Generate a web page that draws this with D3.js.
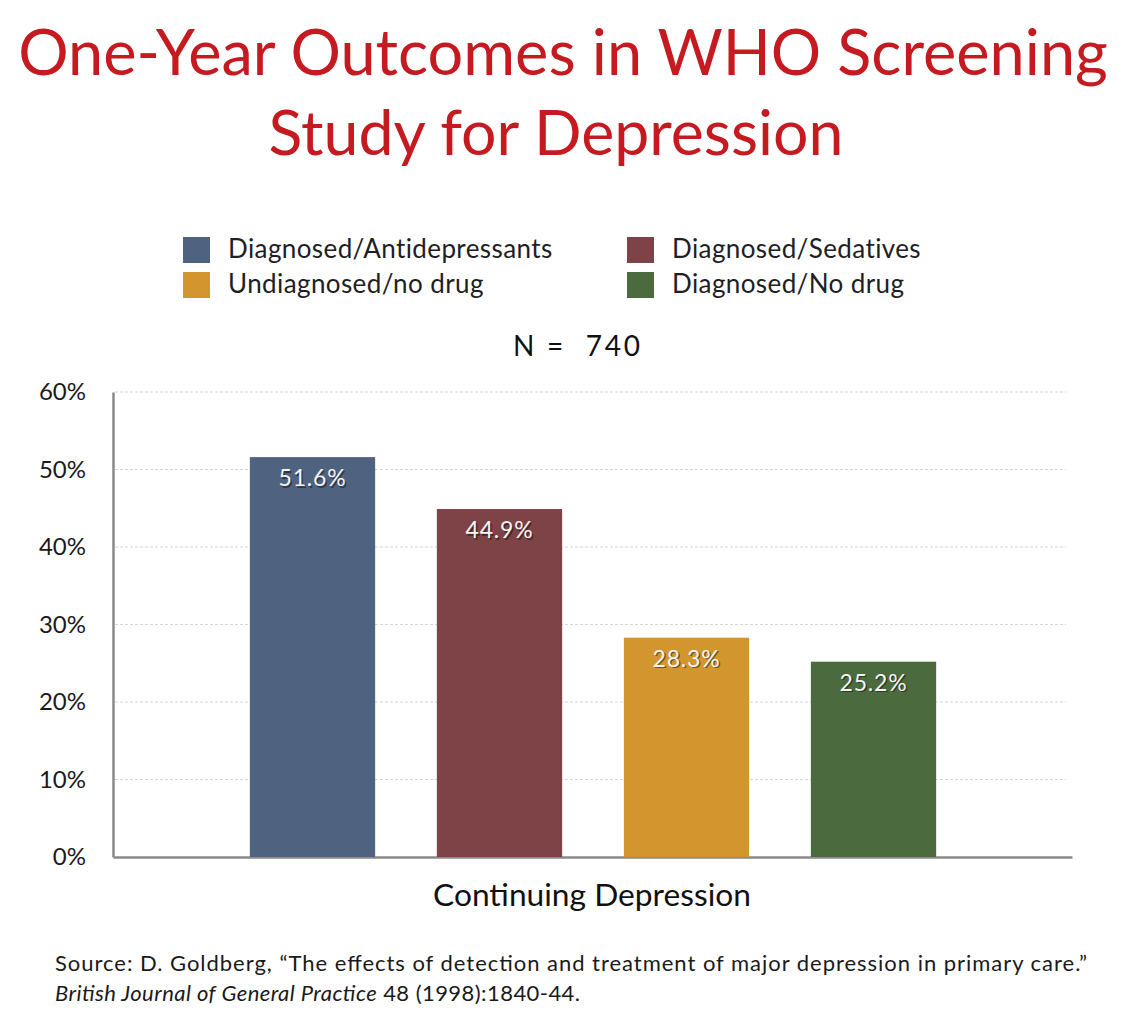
<!DOCTYPE html>
<html>
<head>
<meta charset="utf-8">
<script src="https://cdn.jsdelivr.net/npm/d3@7"></script>
<style>
  html, body { margin: 0; padding: 0; background: #fff; }
  svg { display: block; }
  text { font-family: "Lato", "Open Sans", sans-serif; }
</style>
</head>
<body>
<svg id="chart" width="1124" height="1032"></svg>
<script>
// ---- data ----
const titleLines = ["One-Year Outcomes in WHO Screening", "Study for Depression"];
const categories = ["Diagnosed/Antidepressants", "Diagnosed/Sedatives", "Undiagnosed/no drug", "Diagnosed/No drug"];
const values = [51.6, 44.9, 28.3, 25.2];
const colors = ["#4f6381", "#7e4347", "#d3962f", "#4b6a3d"];
const legendOrder = [0, 1, 2, 3];
const yTicks = [0, 10, 20, 30, 40, 50, 60];
const subtitle = "N =  740";
const xLabel = "Continuing Depression";
const sourceLine1 = "Source: D. Goldberg, \u201CThe effects of detection and treatment of major depression in primary care.\u201D";
const sourceJournal = "British Journal of General Practice";
const sourceRest = " 48 (1998):1840-44.";

const svg = d3.select("#chart");

function fitSize(el, base, targetW) {
  const w = el.node().getComputedTextLength();
  el.attr("font-size", base * targetW / w);
}

// ---- title ----
const titleSpecs = [{y: 75, cx: 563, w: 1090}, {y: 155, cx: 556, w: 575}];
titleLines.forEach((t, i) => {
  const el = svg.append("text")
    .attr("x", titleSpecs[i].cx).attr("y", titleSpecs[i].y)
    .attr("text-anchor", "middle")
    .attr("fill", "#c41a20")
    .attr("font-size", 60)
    .text(t);
  fitSize(el, 60, titleSpecs[i].w);
});

// ---- legend ----
const legendPos = [
  {x: 183, y: 237, tx: 228}, {x: 627, y: 237, tx: 672},
  {x: 183, y: 272, tx: 228}, {x: 627, y: 272, tx: 672}
];
legendOrder.forEach((ci, i) => {
  const p = legendPos[i];
  svg.append("rect").attr("x", p.x).attr("y", p.y).attr("width", 27).attr("height", 26)
    .attr("fill", colors[ci]);
  svg.append("text").attr("x", p.tx).attr("y", p.y + 21)
    .attr("font-size", 26).attr("letter-spacing", 0.4).attr("fill", "#1e1e24").text(categories[ci]);
});

svg.append("text").attr("x", 513).attr("y", 356)
  .attr("font-size", 28).attr("fill", "#111")
  .attr("textLength", 127).attr("lengthAdjust", "spacing")
  .style("white-space", "pre").text(subtitle);

// ---- scales ----
const plotLeft = 113, plotRight = 1072, plotTop = 392, plotBottom = 857;
const y = d3.scaleLinear().domain([0, 60]).range([plotBottom, plotTop]);
const x = d3.scaleBand().domain(categories).range([219, 967]).paddingInner(0.33).paddingOuter(0.165);

// gridlines
svg.append("g").selectAll("line").data(yTicks.filter(d => d > 0)).join("line")
  .attr("x1", plotLeft + 2).attr("x2", 1066)
  .attr("y1", d => y(d)).attr("y2", d => y(d))
  .attr("stroke", "#d6d6dc").attr("stroke-width", 1.2)
  .attr("stroke-dasharray", "3,2");

// y axis
const yAxis = d3.axisLeft(y).tickValues(yTicks).tickFormat(d => d + "%").tickSize(0).tickPadding(27);
const gy = svg.append("g").attr("transform", `translate(${plotLeft},0)`).call(yAxis);
gy.select(".domain").attr("stroke", "#8a8a8a").attr("stroke-width", 2.5);
gy.selectAll("text").attr("font-size", 24).attr("fill", "#1a1a1a")
  .attr("font-family", "Lato, sans-serif");

// x axis baseline
const xAxis = d3.axisBottom(d3.scaleLinear().domain([0, 1]).range([plotLeft, plotRight])).ticks(0).tickSize(0).tickSizeOuter(0);
const gx = svg.append("g").attr("transform", `translate(0,${plotBottom})`).call(xAxis);
gx.select(".domain").attr("stroke", "#8a8a8a").attr("stroke-width", 2.5);
gx.selectAll(".tick").remove();

// bars
svg.append("g").selectAll("rect").data(values).join("rect")
  .attr("x", (d, i) => x(categories[i]))
  .attr("width", x.bandwidth())
  .attr("y", d => y(d))
  .attr("height", d => y(0) - y(d))
  .attr("fill", (d, i) => colors[i]);

// value labels (with subtle shadow)
const lbl = svg.append("g");
lbl.selectAll("text.sh").data(values).join("text").attr("class", "sh")
  .attr("x", (d, i) => x(categories[i]) + x.bandwidth() / 2 + 1.5)
  .attr("y", d => y(d) + 30.5)
  .attr("text-anchor", "middle").attr("font-size", 23).attr("letter-spacing", 0.8).attr("fill", "rgba(0,0,0,0.45)")
  .text(d => d.toFixed(1) + "%");
lbl.selectAll("text.v").data(values).join("text").attr("class", "v")
  .attr("x", (d, i) => x(categories[i]) + x.bandwidth() / 2)
  .attr("y", d => y(d) + 29)
  .attr("text-anchor", "middle").attr("font-size", 23).attr("letter-spacing", 0.8).attr("fill", "#f4f4f4")
  .text(d => d.toFixed(1) + "%");

// x label
const xl = svg.append("text").attr("x", 592).attr("y", 906).attr("text-anchor", "middle")
  .attr("font-size", 28).attr("fill", "#111").text(xLabel);
fitSize(xl, 28, 318);

// source
svg.append("text").attr("x", 55).attr("y", 971).attr("font-size", 22).attr("fill", "#1a1a1a")
  .attr("textLength", 1032).attr("lengthAdjust", "spacing")
  .text(sourceLine1);
const s2 = svg.append("text").attr("x", 55).attr("y", 1001).attr("font-size", 22).attr("fill", "#1a1a1a")
  .attr("textLength", 525).attr("lengthAdjust", "spacing");
s2.append("tspan").attr("font-style", "italic").text(sourceJournal);
s2.append("tspan").text(sourceRest);
</script>
</body>
</html>
